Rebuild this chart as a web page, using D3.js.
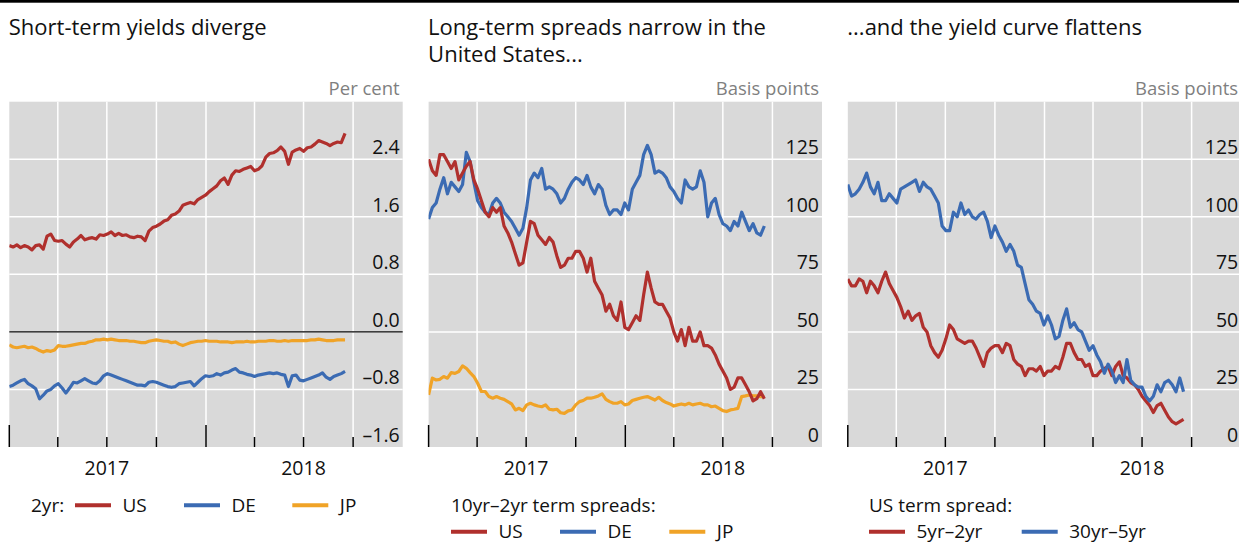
<!DOCTYPE html>
<html>
<head>
<meta charset="utf-8">
<script src="https://cdn.jsdelivr.net/npm/d3@7"></script>
<style>
  html, body { margin: 0; padding: 0; background: #fff; }
  svg { display: block; font-family: "Open Sans", "Noto Sans", sans-serif; }
</style>
</head>
<body>
<svg id="chart" width="1239" height="543"></svg>
<script>
// ---------- DATA (weekly observations from the first week of 2017) ----------
const firstWeek = "2017-01-01";

// Panel 1: 2-year yields, per cent
const us2y = [1.20,1.18,1.21,1.17,1.20,1.18,1.14,1.20,1.21,1.15,1.33,1.36,1.27,1.26,1.27,1.22,1.18,1.25,1.29,1.34,
  1.28,1.30,1.31,1.29,1.35,1.34,1.36,1.39,1.34,1.37,1.34,1.35,1.32,1.31,1.33,1.32,1.27,1.40,1.45,1.47,
  1.50,1.54,1.56,1.62,1.64,1.68,1.76,1.78,1.80,1.78,1.84,1.87,1.90,1.95,1.99,2.03,2.10,2.14,2.05,2.18,
  2.24,2.23,2.26,2.28,2.30,2.24,2.26,2.31,2.43,2.48,2.49,2.52,2.57,2.51,2.33,2.50,2.53,2.55,2.51,2.56,
  2.57,2.61,2.66,2.64,2.62,2.59,2.62,2.64,2.63,2.76];
const de2y = [-0.76,-0.74,-0.71,-0.68,-0.66,-0.72,-0.75,-0.79,-0.93,-0.88,-0.82,-0.80,-0.75,-0.72,-0.78,-0.85,-0.78,-0.70,-0.71,-0.68,
  -0.65,-0.68,-0.71,-0.72,-0.68,-0.61,-0.58,-0.60,-0.62,-0.64,-0.66,-0.68,-0.70,-0.72,-0.74,-0.74,-0.75,-0.70,-0.69,-0.70,
  -0.72,-0.74,-0.76,-0.77,-0.76,-0.72,-0.71,-0.70,-0.69,-0.75,-0.70,-0.65,-0.61,-0.62,-0.61,-0.58,-0.60,-0.57,-0.56,-0.53,
  -0.51,-0.56,-0.57,-0.59,-0.60,-0.62,-0.60,-0.59,-0.58,-0.57,-0.58,-0.57,-0.59,-0.60,-0.76,-0.61,-0.60,-0.67,-0.68,-0.66,
  -0.64,-0.62,-0.60,-0.57,-0.63,-0.66,-0.62,-0.60,-0.58,-0.55];
const jp2y = [-0.18,-0.21,-0.22,-0.21,-0.20,-0.22,-0.21,-0.23,-0.26,-0.28,-0.26,-0.27,-0.25,-0.19,-0.20,-0.20,-0.19,-0.18,-0.17,-0.16,
  -0.16,-0.14,-0.13,-0.11,-0.11,-0.10,-0.11,-0.10,-0.11,-0.12,-0.12,-0.12,-0.13,-0.13,-0.14,-0.15,-0.15,-0.13,-0.12,-0.11,
  -0.12,-0.13,-0.13,-0.15,-0.14,-0.17,-0.19,-0.17,-0.15,-0.14,-0.13,-0.13,-0.12,-0.13,-0.13,-0.13,-0.14,-0.14,-0.14,-0.15,
  -0.14,-0.14,-0.14,-0.13,-0.14,-0.14,-0.13,-0.13,-0.13,-0.12,-0.12,-0.13,-0.13,-0.12,-0.13,-0.12,-0.12,-0.12,-0.12,-0.12,
  -0.11,-0.11,-0.10,-0.11,-0.12,-0.12,-0.12,-0.11,-0.11,-0.11];

// Panel 2: 10yr-2yr term spreads, basis points
const us10s2s = [125,120,118,127,127,124,121,124,116,119,122,124,116,112,107,102,100,104,102,104,
  96,93,89,84,79,80,89,98,97,92,90,88,91,89,83,78,79,82,82,85,
  85,82,76,82,72,69,66,59,62,57,55,63,52,51,54,57,55,66,76,69,
  63,62,62,59,56,50,46,51,44,52,46,46,50,44,44,43,40,36,33,30,
  25,26,30,30,27,24,20,21,24,21];
const de10s2s = [99,104,106,112,117,110,115,113,111,114,128,124,115,107,104,102,101,106,108,106,
  102,100,98,95,92,95,104,116,119,117,121,112,113,112,110,106,108,112,115,117,
  116,114,118,113,110,114,112,105,101,103,103,101,106,103,112,115,118,127,131,127,
  119,120,119,117,113,111,108,106,116,113,112,113,120,115,100,106,108,101,97,96,
  94,98,96,102,98,94,97,93,92,96];
const jp10s2s = [22.6,29.9,29.1,29.4,30.6,29.9,32.3,32.0,32.8,35.2,34.2,32.3,30.6,27.7,24.1,24.1,21.9,21.2,21.9,21.2,
  20.7,19.7,18.7,16.1,16.8,15.8,18.3,19.0,18.3,17.8,17.5,18.3,16.4,16.1,16.4,14.9,14.6,15.7,16.1,18.3,
  19.7,20.2,21.2,21.2,21.6,22.2,23.1,20.7,19.7,19.0,19.0,19.7,18.3,18.7,20.2,20.7,21.2,21.6,21.9,21.2,
  20.4,21.6,20.2,19.3,18.7,17.8,18.3,18.7,18.3,19.0,18.3,18.7,19.0,18.3,18.3,17.5,17.8,16.8,15.8,15.4,
  16.1,16.4,16.8,21.9,22.2,22.6,22.2,22.2,21.9,21.9];

// Panel 3: US term spreads, basis points
const us5s2s = [73,70,70,73,72,67,72,70,67,72,76,71,68,65,61,56,59,55,57,58,
  52,50,44,41,39,42,47,53,51,47,46,45,46,46,43,39,35,41,43,44,
  44,41,45,44,38,36,35,31,34,34,33,35,31,33,33,35,34,39,45,45,
  41,38,38,35,36,31,31,33,34,35,31,35,37,31,30,28,27,25,22,20,
  18,15,18,19,16,13,11,10,11,12];
const us30s5s = [114,109,110,112,115,119,113,110,115,107,107,110,108,106,112,113,114,115,116,111,
  115,113,112,109,106,96,94,94,102,100,106,101,103,100,99,101,102,98,91,96,
  92,89,85,88,85,79,78,71,64,62,59,58,53,57,53,47,48,55,60,52,
  54,51,50,46,42,44,40,37,32,36,33,28,31,28,38,29,27,26,26,22,
  20,22,27,24,28,29,27,24,30,24];

// Axis tick values / labels
const yTicksPct = [-1.6, -0.8, 0.0, 0.8, 1.6, 2.4];
const yTicksBp = [0, 25, 50, 75, 100, 125];
const yearLabels = [2017, 2018];

const titles = [["Short-term yields diverge"],
                ["Long-term spreads narrow in the", "United States..."],
                ["...and the yield curve flattens"]];
const units = ["Per cent", "Basis points", "Basis points"];

// ---------- STYLE ----------
const RED = "#b0302d", BLUE = "#3b6bb3", ORANGE = "#f0a327", BG = "#d9d9d9";

const svg = d3.select("#chart");
const W = 1239;
const plotTop = 101.7, plotBottom = 447, plotH = plotBottom - plotTop;
const plotW = 393.4;
const lefts = [9.3, 428.6, 847.8];

const parse = d3.timeParse("%Y-%m-%d");
const start = parse(firstWeek);
const dates = us2y.map((_, i) => d3.timeDay.offset(start, 7 * i));

const x = d3.scaleTime().domain([new Date(2017, 0, 1), new Date(2019, 0, 1)]).range([0, plotW]);

// Top rule
svg.append("rect").attr("x", 0).attr("y", 0).attr("width", W).attr("height", 2.7).attr("fill", "#000");

const panels = [
  { domain: [-1.6, 3.2], ticks: yTicksPct, fmt: d => (d < 0 ? "–" : "") + Math.abs(d).toFixed(1),
    series: [{v: us2y, c: RED}, {v: de2y, c: BLUE}, {v: jp2y, c: ORANGE}], zero: true },
  { domain: [0, 150], ticks: yTicksBp, fmt: d3.format("d"),
    series: [{v: jp10s2s, c: ORANGE}, {v: de10s2s, c: BLUE}, {v: us10s2s, c: RED}] },
  { domain: [0, 150], ticks: yTicksBp, fmt: d3.format("d"),
    series: [{v: us5s2s, c: RED}, {v: us30s5s, c: BLUE}] }
];

panels.forEach((p, k) => {
  const g = svg.append("g").attr("transform", `translate(${lefts[k]},0)`);
  const y = d3.scaleLinear().domain(p.domain).range([plotBottom, plotTop]);

  // title
  titles[k].forEach((t, j) => {
    g.append("text").attr("x", -0.5).attr("y", 35 + j * 27)
      .attr("font-size", 22).attr("fill", "#111").text(t);
  });
  // unit
  g.append("text").attr("x", plotW - 3).attr("y", 94.5).attr("text-anchor", "end")
    .attr("font-size", 18.5).attr("fill", "#7f7f7f").text(units[k]);

  // background
  g.append("rect").attr("x", 0).attr("y", plotTop).attr("width", plotW).attr("height", plotH).attr("fill", BG);

  // vertical gridlines (quarters)
  const quarters = x.ticks(d3.timeMonth.every(3));
  g.selectAll(".vg").data(quarters.filter(d => x(d) > 1 && x(d) < plotW - 1)).join("line")
    .attr("x1", d => x(d)).attr("x2", d => x(d)).attr("y1", plotTop).attr("y2", plotBottom)
    .attr("stroke", "#fff").attr("stroke-width", 1.5);
  // horizontal gridlines
  g.selectAll(".hg").data(p.ticks.filter(t => y(t) < plotBottom - 1)).join("line")
    .attr("x1", 0).attr("x2", plotW).attr("y1", d => y(d)).attr("y2", d => y(d))
    .attr("stroke", "#fff").attr("stroke-width", 1.5);

  // zero line
  if (p.zero) {
    g.append("line").attr("x1", 0).attr("x2", plotW).attr("y1", y(0)).attr("y2", y(0))
      .attr("stroke", "#000").attr("stroke-width", 1.4);
  }

  // y axis labels (inside plot, right aligned, above gridline)
  const ax = d3.axisLeft(y).tickValues(p.ticks).tickFormat(p.fmt).tickSize(0).tickPadding(0);
  const axg = g.append("g").attr("transform", `translate(${plotW - 3},0)`).call(ax);
  axg.select(".domain").remove();
  axg.selectAll("text").attr("dy", "-0.29em").attr("font-size", 19.5).attr("fill", "#111")
    .attr("font-family", "'Open Sans', 'Noto Sans', sans-serif");

  // x ticks
  const xt = quarters.filter(d => x(d) < plotW - 1);
  g.selectAll(".xt").data(xt).join("line")
    .attr("x1", d => x(d)).attr("x2", d => x(d))
    .attr("y1", d => d.getMonth() === 0 ? plotBottom - 22 : plotBottom - 10).attr("y2", plotBottom)
    .attr("stroke", "#000").attr("stroke-width", 1.5);

  // year labels
  g.selectAll(".yl").data(yearLabels).join("text")
    .attr("x", d => x(new Date(d, 6, 1))).attr("y", 474.5).attr("text-anchor", "middle")
    .attr("font-size", 19.5).attr("fill", "#111").text(d => d);

  // series
  const clipId = "clip" + k;
  g.append("clipPath").attr("id", clipId).append("rect")
    .attr("x", 0).attr("y", plotTop).attr("width", plotW).attr("height", plotH);
  p.series.forEach(s => {
    const line = d3.line().x((d, i) => x(dates[i])).y(d => y(d));
    g.append("path").datum(s.v).attr("d", line).attr("fill", "none")
      .attr("stroke", s.c).attr("stroke-width", 3.2).attr("stroke-linejoin", "round")
      .attr("clip-path", `url(#${clipId})`);
  });
});

// ---------- LEGENDS ----------
function swatch(x1, yc, color) {
  svg.append("line").attr("x1", x1).attr("x2", x1 + 36).attr("y1", yc).attr("y2", yc)
    .attr("stroke", color).attr("stroke-width", 4);
}
function label(xp, yb, t) {
  svg.append("text").attr("x", xp).attr("y", yb).attr("font-size", 19).attr("fill", "#111").text(t);
}
// Panel 1
label(31, 512, "2yr:");
[[75, RED, "US"], [184, BLUE, "DE"], [292.3, ORANGE, "JP"]].forEach(([xp, c, t]) => {
  swatch(xp, 505.3, c); label(xp + 47.5, 512, t);
});
// Panel 2
label(451, 512, "10yr–2yr term spreads:");
[[451, RED, "US"], [560, BLUE, "DE"], [669.3, ORANGE, "JP"]].forEach(([xp, c, t]) => {
  swatch(xp, 531.8, c); label(xp + 47.5, 538, t);
});
// Panel 3
label(869, 512, "US term spread:");
[[869, RED, "5yr–2yr"], [1021.7, BLUE, "30yr–5yr"]].forEach(([xp, c, t]) => {
  swatch(xp, 531.8, c); label(xp + 47.5, 538, t);
});
</script>
</body>
</html>
